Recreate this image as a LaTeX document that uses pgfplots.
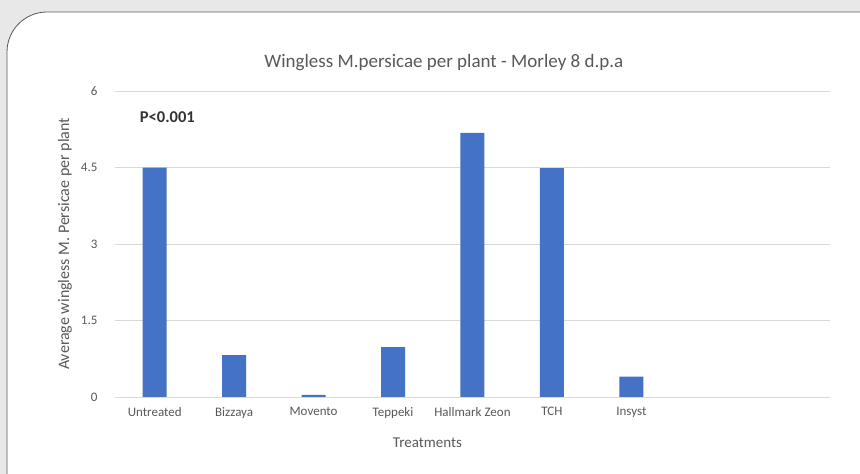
\documentclass[border=0pt]{standalone}
\usepackage{pgfplots}
\pgfplotsset{compat=1.18}
\usepackage{fontspec}
\setmainfont{Carlito}
\definecolor{barblue}{RGB}{68,114,196}
\definecolor{txtgrey}{RGB}{89,89,89}
\definecolor{gridgrey}{RGB}{217,217,217}

\begin{document}
\begin{tikzpicture}[x=1pt,y=1pt]
  \path[use as bounding box] (0,0) rectangle (860,474);
  \fill[black!9] (0,0) rectangle (860,474);
  \begin{scope}
    \clip (0,0) rectangle (860,474);
    \draw[fill=white, draw=black!65, line width=0.8pt, rounded corners=40pt]
      (7,-60) rectangle (920,462);
  \end{scope}
  % axis box runs from x=115 to 830 and y=77 to 383; data (0,0) sits at (154.7,77)
  \begin{axis}[
    at={(154.7pt,77pt)}, anchor=origin,
    scale only axis, width=715pt, height=306pt,
    xmin=-0.5, xmax=8.5, ymin=0, ymax=6,
    ytick={0,1.5,3,4.5,6},
    xtick={0,...,6},
    xticklabels={Untreated,Bizzaya,Movento,Teppeki,Hallmark Zeon,TCH,Insyst},
    axis line style={draw=none},
    major tick length=0pt,
    ymajorgrids,
    grid style={draw=gridgrey, line width=0.8pt},
    /pgf/number format/assume math mode=true,
    tick label style={font=\fontsize{13}{15}\selectfont, text=txtgrey},
    yticklabel style={xshift=-14pt},
    xticklabel style={yshift=-7pt},
    title={Wingless M.persicae per plant - Morley 8 d.p.a},
    title style={font=\fontsize{19}{21}\selectfont, text=txtgrey,
      at={(axis description cs:0.46,1.0)}, anchor=south, yshift=11pt},
    xlabel={Treatments},
    xlabel style={font=\fontsize{15}{17}\selectfont, text=txtgrey,
      at={(axis description cs:0.437,-0.15)}, anchor=center},
    ylabel={Average wingless M. Persicae per plant},
    ylabel style={font=\fontsize{16}{18}\selectfont, text=txtgrey,
      at={(axis description cs:-0.07,0.5)}, anchor=center},
  ]
    \addplot[ybar, bar width=24pt, fill=barblue, draw=none] coordinates {
      (0,4.50) (1,0.82) (2,0.04) (3,0.98) (4,5.18) (5,4.49) (6,0.40)
    };
    \node[anchor=west, font=\bfseries\fontsize{16.5}{18}\selectfont, text=black!80]
      at (axis description cs:0.03,0.915) {P<0.001};
  \end{axis}
\end{tikzpicture}
\end{document}
